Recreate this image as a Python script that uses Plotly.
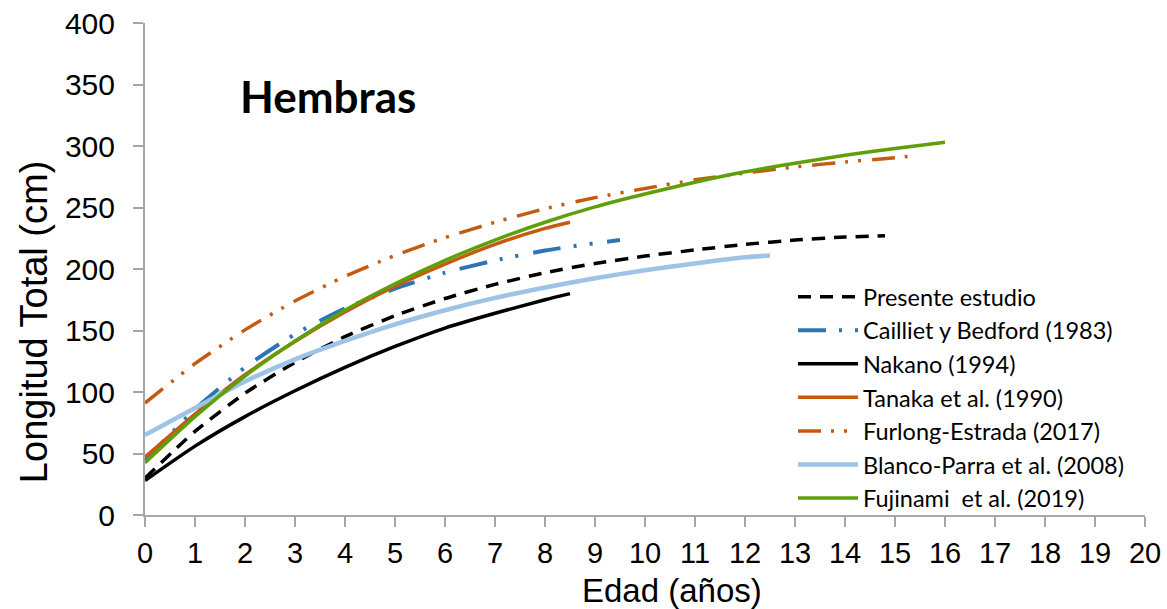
import plotly.graph_objects as go

# Age (years) and total length (cm) for each growth curve, females
edad_presente = [0, 1, 2, 3, 4, 5, 6, 7, 8, 9, 10, 11, 12, 13, 14, 14.8]
lt_presente = [30, 68, 99, 124, 145, 162, 176, 187.5, 197, 204.5, 210.5, 215.5, 220, 223.5, 226, 227]

edad_cailliet = [0, 1, 2, 3, 4, 5, 6, 7, 8, 9, 9.5]
lt_cailliet = [44, 86, 120, 147, 168, 184, 197, 207, 215, 221, 223.5]

edad_nakano = [0, 1, 2, 3, 4, 5, 6, 7, 8, 8.5]
lt_nakano = [28, 56, 80, 101, 120, 137, 152, 164, 175, 180]

edad_tanaka = [0, 1, 2, 3, 4, 5, 6, 7, 8, 8.5]
lt_tanaka = [47, 82, 114, 141, 165, 186, 204, 220, 233, 238]

edad_furlong = [0, 1, 2, 3, 4, 5, 6, 7, 8, 9, 10, 11, 12, 13, 14, 15, 15.25]
lt_furlong = [91, 123, 150.5, 174, 194, 211, 225.5, 238, 249, 258, 265.5, 272.5, 278, 283, 287, 290.5, 291.5]

edad_blanco = [0, 1, 2, 3, 4, 5, 6, 7, 8, 9, 10, 11, 12, 12.5]
lt_blanco = [65, 87, 108.5, 126.5, 141.5, 155, 166.5, 176.5, 185, 192.5, 199, 204.5, 209.5, 211]

edad_fujinami = [0, 1, 2, 3, 4, 5, 6, 7, 8, 9, 10, 11, 12, 13, 14, 15, 16]
lt_fujinami = [42.5, 80, 113, 141.5, 166.5, 188, 207, 223.5, 238, 250.5, 261, 270.5, 279, 286, 292.5, 298, 303]

x_ticks = list(range(0, 21))
y_ticks = list(range(0, 401, 50))

NEGRO = "#000000"
AZUL = "#2E75B6"
NARANJA = "#C55A11"
CELESTE = "#9DC3E6"
VERDE = "#5FA00A"

series = [
    ("Presente estudio", edad_presente, lt_presente, NEGRO, 3.5, "13px,9px"),
    ("Cailliet y Bedford (1983)", edad_cailliet, lt_cailliet, AZUL, 4,
     "28px,13px,3px,13px,3px,15px"),
    ("Nakano (1994)", edad_nakano, lt_nakano, NEGRO, 3.5, "solid"),
    ("Tanaka et al. (1990)", edad_tanaka, lt_tanaka, NARANJA, 3.5, "solid"),
    ("Furlong-Estrada (2017)", edad_furlong, lt_furlong, NARANJA, 3.5,
     "23px,10px,3px,10px,3px,11px"),
    ("Blanco-Parra et al. (2008)", edad_blanco, lt_blanco, CELESTE, 4.5, "solid"),
    ("Fujinami  et al. (2019)", edad_fujinami, lt_fujinami, VERDE, 3.5, "solid"),
]

fig = go.Figure()
for nombre, xs, ys, color, ancho, trazo in series:
    fig.add_trace(go.Scatter(
        x=xs, y=ys, mode="lines", name=nombre,
        line=dict(color=color, width=ancho, dash=trazo, shape="spline", smoothing=0.6),
    ))

EJE = "#A6A6A6"
TXT = "Liberation Sans, Arial, sans-serif"
fig.update_layout(
    width=1167, height=609,
    margin=dict(l=145, r=22, t=23, b=94),
    paper_bgcolor="white", plot_bgcolor="white",
    font=dict(family=TXT, color="black"),
    showlegend=True,
    legend=dict(
        x=0.648, y=0.488, xanchor="left", yanchor="top",
        font=dict(family="Lato, Open Sans, sans-serif", size=23.5, color="black"),
        bgcolor="rgba(0,0,0,0)", tracegroupgap=0, itemwidth=60,
    ),
    annotations=[
        dict(text="<b>Hembras</b>", x=1.86, y=341, xref="x", yref="y",
             xanchor="left", yanchor="middle", showarrow=False,
             font=dict(family="Lato, Open Sans, sans-serif", size=44, color="black")),
        dict(text="Edad (años)", x=0.527, y=-0.153, xref="paper", yref="paper",
             xanchor="center", yanchor="middle", showarrow=False,
             font=dict(family=TXT, size=33, color="black")),
        dict(text="Longitud Total (cm)", x=-0.111, y=0.392, xref="paper", yref="paper",
             xanchor="center", yanchor="middle", showarrow=False, textangle=-90,
             font=dict(family=TXT, size=38, color="black")),
    ],
)
fig.update_xaxes(
    range=[0, 20], tickvals=x_ticks, ticktext=[str(v) for v in x_ticks],
    showgrid=False, zeroline=False, showline=True, linecolor=EJE, linewidth=2,
    ticks="outside", ticklen=10, tickcolor=EJE, tickwidth=1.5, automargin=False,
    tickfont=dict(size=29), ticklabelstandoff=1,
)
fig.update_yaxes(
    range=[0, 400], tickvals=y_ticks,
    showgrid=False, zeroline=False, showline=True, linecolor=EJE, linewidth=2,
    ticks="outside", ticklen=10, tickcolor=EJE, tickwidth=1.5, automargin=False,
    tickfont=dict(size=30), ticklabelstandoff=12,
)

fig.write_html("out.html")
